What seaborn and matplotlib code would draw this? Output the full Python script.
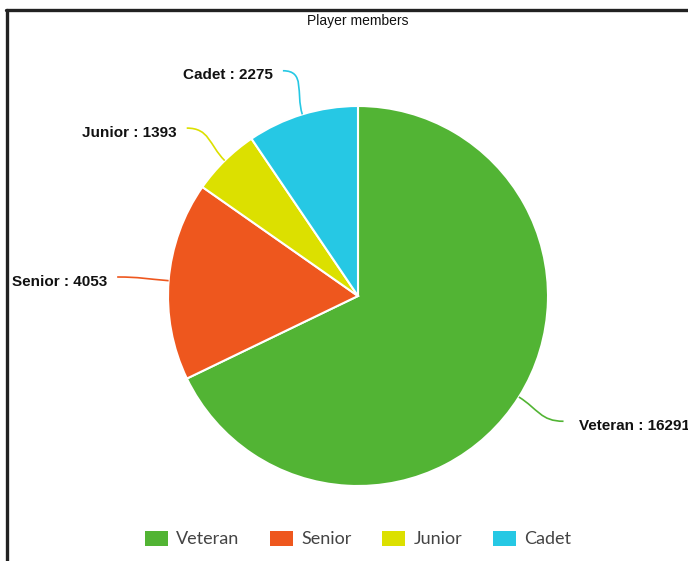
import numpy as np
import matplotlib
matplotlib.use('Agg')
import matplotlib.pyplot as plt
from matplotlib.path import Path
from matplotlib.patches import PathPatch, Patch
from matplotlib.lines import Line2D
import seaborn as sns

categories = ['Veteran', 'Senior', 'Junior', 'Cadet']
members = [16291, 4053, 1393, 2275]
colors = ['#52B434', '#EE571E', '#DCE000', '#26C8E4']

sns.set_theme(style='white')
plt.rcParams['font.family'] = ['Liberation Sans', 'DejaVu Sans']
palette = sns.color_palette(colors)

W, H = 688, 561
fig = plt.figure(figsize=(W / 100, H / 100), dpi=100)
ax = fig.add_axes([0, 0, 1, 1])

cx, cy, r = 358, H - 296, 190
wedges, _ = ax.pie(members, colors=palette, startangle=90, counterclock=False,
                   center=(cx, cy), radius=r, frame=True,
                   wedgeprops=dict(edgecolor='white', linewidth=1.5))
ax.set_xlim(0, W)
ax.set_ylim(0, H)
ax.axis('off')

# connector lines + labels
for w, name, val, col in zip(wedges, categories, members, palette):
    ang = np.deg2rad((w.theta1 + w.theta2) / 2)
    d = np.array([np.cos(ang), np.sin(ang)])
    side = 1 if d[0] >= 0 else -1
    p0 = np.array([cx, cy]) + r * d
    p3 = np.array([cx, cy]) + 1.24 * r * d + np.array([side * 6, 0])
    p1 = p0 + 0.12 * r * d
    p2 = p3 - np.array([side * 0.12 * r, 0])
    path = Path([p0, p1, p2, p3], [Path.MOVETO, Path.CURVE4, Path.CURVE4, Path.CURVE4])
    ax.add_patch(PathPatch(path, fill=False, edgecolor=col, linewidth=1.2))
    gap = 15 if side > 0 else 10
    ax.text(p3[0] + side * gap, p3[1] - 4.5, f'{name} : {val}',
            ha='left' if side > 0 else 'right', va='center',
            fontsize=11, fontweight='bold', color='#111111')

fig.text(358 / W, 1 - 21 / H, 'Player members', ha='center', va='center',
         fontsize=10, color='#111111')

handles = [Patch(facecolor=c, edgecolor='none') for c in palette]
leg = fig.legend(handles, categories, loc='center', bbox_to_anchor=(358 / W, 1 - 539 / H),
                 ncol=4, frameon=False, handlelength=1.28, handleheight=0.95,
                 handletextpad=0.45, columnspacing=1.7, prop={'family': 'Lato', 'size': 13})
for t in leg.get_texts():
    t.set_color('#444444')

# frame of the source screenshot
fig.add_artist(Line2D([6 / W, 1], [1 - 10 / H, 1 - 10 / H], transform=fig.transFigure,
                      color='#222222', linewidth=2.4))
fig.add_artist(Line2D([7 / W, 7 / W], [0, 1 - 10 / H], transform=fig.transFigure,
                      color='#222222', linewidth=2.4))

fig.savefig('out.png', dpi=100)
